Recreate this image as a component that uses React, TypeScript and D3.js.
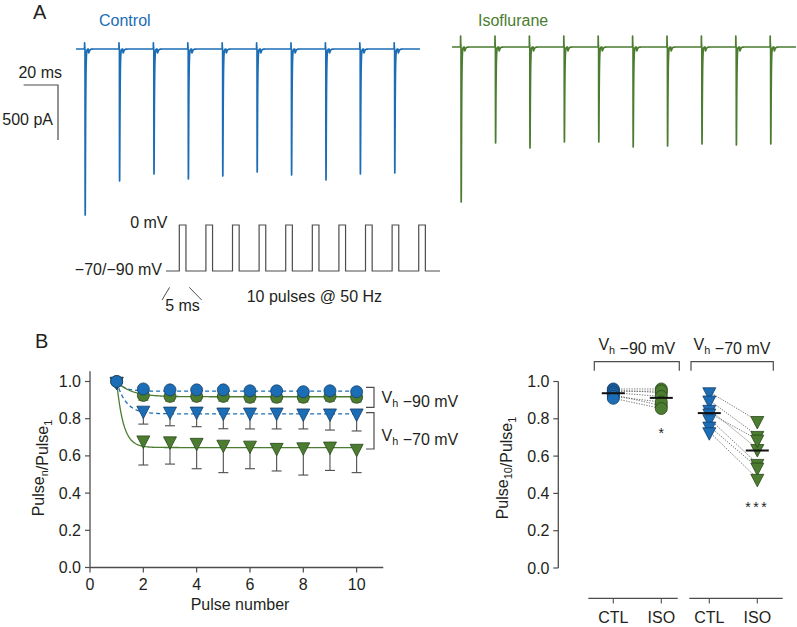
import React from "react";
import * as d3 from "d3";

// ---------- Panel A: peak amplitudes (pA) of the 10 responses ----------
const controlPeaks = [1509, 1200, 1136, 1182, 1155, 1118, 1145, 1191, 1136, 1127];
const isoPeaks = [1409, 873, 918, 864, 864, 909, 900, 882, 891, 882];
const traceArtifact = { control: 55, iso: 100 }; // pA (capacitive transient)
const traceTail = { control: 35, iso: 35 }; // pA (small late component)

// Protocol
const protocolPulses = 10;
const protocolPeriod = 20; // ms (50 Hz)
const protocolWidth = 5; // ms

// ---------- Panel B left: Pulse_n / Pulse_1 ----------
const pulseNumbers = [1, 2, 3, 4, 5, 6, 7, 8, 9, 10];
const ctl90Mean = [1.0, 0.96, 0.955, 0.955, 0.955, 0.95, 0.95, 0.945, 0.95, 0.945];
const ctl90Err = [0, 0.015, 0.015, 0.015, 0.015, 0.015, 0.015, 0.015, 0.015, 0.015];
const iso90Mean = [1.0, 0.925, 0.92, 0.92, 0.92, 0.915, 0.915, 0.915, 0.92, 0.915];
const iso90Err = [0, 0.025, 0.025, 0.025, 0.025, 0.025, 0.025, 0.025, 0.025, 0.025];
const ctl70Mean = [1.0, 0.845, 0.84, 0.84, 0.835, 0.835, 0.835, 0.83, 0.83, 0.83];
const ctl70Err = [0, 0.074, 0.078, 0.083, 0.089, 0.09, 0.09, 0.085, 0.091, 0.096];
const iso70Mean = [1.0, 0.685, 0.68, 0.672, 0.662, 0.657, 0.645, 0.648, 0.652, 0.64];
const iso70Err = [0, 0.134, 0.124, 0.141, 0.152, 0.126, 0.126, 0.151, 0.13, 0.13];
// exponential fits: plateau, tau (pulses)
const fitPlateaus = [0.948, 0.918, 0.826, 0.645];
const fitTaus = [0.3, 0.55, 0.35, 0.25];

const yTicksB = [0, 0.2, 0.4, 0.6, 0.8, 1.0];
const xTicksB = [0, 2, 4, 6, 8, 10];

// ---------- Panel B right: Pulse_10 / Pulse_1 per cell ----------
const groups = ["CTL", "ISO", "CTL ", "ISO "];
const ctl90Cells = [0.96, 0.955, 0.945, 0.94, 0.93, 0.92, 0.91];
const iso90Cells = [0.96, 0.94, 0.95, 0.92, 0.87, 0.89, 0.855];
const ctl70Cells = [0.944, 0.9, 0.85, 0.83, 0.8, 0.76, 0.73];
const iso70Cells = [0.79, 0.71, 0.64, 0.69, 0.56, 0.54, 0.48];

const BLUE = "#1b6db5";
const BLUE_D = "#163f69";
const GREEN = "#4b7c30";
const GREEN_D = "#2a471b";
const AXIS = "#4d4d4d";
const TEXT = "#231f20";
const FONT = "'Liberation Sans', Arial, Helvetica, sans-serif";

function gShape(d: number, tr: number, td: number) {
  const tp = ((tr * td) / (td - tr)) * Math.log(td / tr);
  const norm = Math.exp(-tp / td) - Math.exp(-tp / tr);
  return (Math.exp(-d / td) - Math.exp(-d / tr)) / norm;
}

function traceData(peaks: number[], artifact: number, tail: number) {
  const pts: [number, number][] = [];
  for (let k = 0; k <= 8000; k++) {
    const t = k * 0.025;
    let v = 0;
    peaks.forEach((A, i) => {
      const on = 5 + i * 20;
      const dt = t - on;
      if (dt >= 0 && dt < 0.3) v += artifact * Math.exp(-dt / 0.07);
      const d1 = dt - 0.25;
      if (d1 > 0) v -= A * gShape(d1, 0.06, 0.2);
      const d2 = dt - 2.2;
      if (d2 > 0) v -= tail * gShape(d2, 0.12, 0.45);
    });
    pts.push([t, v]);
  }
  return pts;
}

const Sub = ({ parts, ...rest }: any) => (
  <text {...rest}>
    {parts.map((p: any, i: number) =>
      typeof p === "string" ? (
        <tspan key={i}>{p}</tspan>
      ) : (
        <tspan key={i} fontSize="0.68em" dy={p.dy}>
          {p.sub}
        </tspan>
      )
    )}
  </text>
);

function triPath(w: number, h: number) {
  return `M${-w / 2},${-h / 3}L${w / 2},${-h / 3}L0,${(2 * h) / 3}Z`;
}

export default function App() {
  // ---- Panel A scales ----
  const xC = d3.scaleLinear().domain([0, 200]).range([76, 420]);
  const yC = d3.scaleLinear().domain([0, -1000]).range([49, 159]);
  const xI = d3.scaleLinear().domain([0, 200]).range([452, 796]);
  const yI = d3.scaleLinear().domain([0, -1000]).range([47, 157]);
  const ctlTrace = traceData(controlPeaks, traceArtifact.control, traceTail.control);
  const isoTrace = traceData(isoPeaks, traceArtifact.iso, traceTail.iso);
  const lineC = d3.line<[number, number]>().x((d) => xC(d[0])).y((d) => yC(d[1]));
  const lineI = d3.line<[number, number]>().x((d) => xI(d[0])).y((d) => yI(d[1]));

  // protocol
  const xP = d3.scaleLinear().domain([0, 206]).range([166, 440]);
  const yP = d3.scaleLinear().domain([-70, 0]).range([271, 225]);
  const protoPts: [number, number][] = [[0, -70]];
  d3.range(protocolPulses).forEach((i) => {
    const on = 10 + i * protocolPeriod;
    protoPts.push([on, -70], [on, 0], [on + protocolWidth, 0], [on + protocolWidth, -70]);
  });
  protoPts.push([206, -70]);
  const lineP = d3.line<[number, number]>().x((d) => xP(d[0])).y((d) => yP(d[1]));

  // ---- Panel B left ----
  const xL = d3.scaleLinear().domain([0, 11]).range([90, 383.3]);
  const yL = d3.scaleLinear().domain([0, 1]).range([567.5, 381.5]);
  const fitLine = d3.line<[number, number]>().x((d) => xL(d[0])).y((d) => yL(d[1]));
  const fitPts = (p: number, tau: number) =>
    d3.range(1, 10.001, 0.05).map((x) => [x, p + (1 - p) * Math.exp(-(x - 1) / tau)] as [number, number]);
  const series = [
    { mean: iso70Mean, err: iso70Err, fill: GREEN, stroke: GREEN_D, shape: "tri" },
    { mean: ctl70Mean, err: ctl70Err, fill: BLUE, stroke: BLUE_D, shape: "tri" },
    { mean: iso90Mean, err: iso90Err, fill: GREEN, stroke: GREEN_D, shape: "circ" },
    { mean: ctl90Mean, err: ctl90Err, fill: BLUE, stroke: BLUE_D, shape: "circ" },
  ];
  const fits = [
    { i: 0, color: BLUE, dash: "4,3" },
    { i: 1, color: GREEN, dash: undefined },
    { i: 2, color: BLUE, dash: "4,3" },
    { i: 3, color: GREEN, dash: undefined },
  ];

  // ---- Panel B right ----
  const xR = d3.scalePoint<string>().domain(groups).range([613.3, 757.3]);
  const yR = d3.scaleLinear().domain([0, 1]).range([568, 381.5]);
  const pairs = [
    { a: ctl90Cells, b: iso90Cells, ga: groups[0], gb: groups[1], shape: "circ" },
    { a: ctl70Cells, b: iso70Cells, ga: groups[2], gb: groups[3], shape: "tri" },
  ];

  const fs = 16;

  return (
    <svg
      width={797}
      height={627}
      style={{ position: "absolute", left: 0, top: 0, background: "#fff" }}
      fontFamily={FONT}
      fill={TEXT}
    >
      {/* ===== Panel A ===== */}
      <text x={33} y={19} fontSize={20}>A</text>
      <text x={99} y={26} fontSize={16} fill={BLUE}>Control</text>
      <text x={478} y={26} fontSize={16} fill={GREEN}>Isoflurane</text>
      <path d={lineC(ctlTrace) || ""} fill="none" stroke={BLUE} strokeWidth={1.7} strokeLinejoin="round" />
      <path d={lineI(isoTrace) || ""} fill="none" stroke={GREEN} strokeWidth={1.7} strokeLinejoin="round" />

      {/* scale bar */}
      <path
        d={`M${xC(0) - (xC(20) - xC(0)) - 18},85H${xC(0) - 18}V${85 + (yC(-500) - yC(0))}`}
        fill="none"
        stroke={AXIS}
        strokeWidth={1.2}
      />
      <text x={62} y={78} fontSize={fs} textAnchor="end">20 ms</text>
      <text x={53} y={125} fontSize={fs} textAnchor="end">500 pA</text>

      {/* protocol */}
      <path d={lineP(protoPts) || ""} fill="none" stroke={AXIS} strokeWidth={1.2} />
      <text x={167.5} y={228} fontSize={fs} textAnchor="end">0 mV</text>
      <text x={162} y={274.5} fontSize={fs} textAnchor="end">−70/−90 mV</text>
      <line x1={xP(10) - 9.7} y1={287.3} x2={xP(10) - 17.3} y2={300} stroke={AXIS} strokeWidth={1} />
      <line x1={xP(15) + 3.3} y1={287.3} x2={xP(15) + 15.7} y2={300} stroke={AXIS} strokeWidth={1} />
      <text x={182.5} y={310.5} fontSize={fs} textAnchor="middle">5 ms</text>
      <text x={246.7} y={301.5} fontSize={fs}>10 pulses @ 50 Hz</text>

      {/* ===== Panel B ===== */}
      <text x={35} y={348} fontSize={20}>B</text>

      {/* left axes */}
      <line x1={xL(0)} x2={xL(0)} y1={yL(0)} y2={yL(1.055)} stroke={AXIS} strokeWidth={1.3} />
      <line x1={xL(0)} x2={xL(11)} y1={yL(0)} y2={yL(0)} stroke={AXIS} strokeWidth={1.3} />
      {yTicksB.map((t) => (
        <g key={"yl" + t}>
          <line x1={xL(0) - 5} x2={xL(0)} y1={yL(t)} y2={yL(t)} stroke={AXIS} strokeWidth={1.2} />
          <text x={xL(0) - 9} y={yL(t) + 5.5} fontSize={fs} textAnchor="end">
            {d3.format(".1f")(t)}
          </text>
        </g>
      ))}
      {xTicksB.map((t) => (
        <g key={"xl" + t}>
          <line x1={xL(t)} x2={xL(t)} y1={yL(0)} y2={yL(0) + 5} stroke={AXIS} strokeWidth={1.2} />
          <text x={xL(t)} y={590} fontSize={fs} textAnchor="middle">
            {t}
          </text>
        </g>
      ))}
      <text x={240} y={610} fontSize={fs} textAnchor="middle">Pulse number</text>
      <Sub
        transform="translate(44,468) rotate(-90)"
        textAnchor="middle"
        fontSize={fs}
        parts={["Pulse", { sub: "n", dy: 4 }, { sub: "", dy: -4 }, "/Pulse", { sub: "1", dy: 4 }]}
      />

      {/* error bars */}
      {series.map((s, si) =>
        pulseNumbers.map((p, i) =>
          s.err[i] > 0 ? (
            <g key={`e${si}-${i}`} stroke={AXIS} strokeWidth={1.1}>
              <line x1={xL(p)} x2={xL(p)} y1={yL(s.mean[i])} y2={yL(s.mean[i] - s.err[i])} />
              <line x1={xL(p) - 5} x2={xL(p) + 5} y1={yL(s.mean[i] - s.err[i])} y2={yL(s.mean[i] - s.err[i])} />
            </g>
          ) : null
        )
      )}
      {/* fits */}
      {fits.map((f) => (
        <path
          key={"fit" + f.i}
          d={fitLine(fitPts(fitPlateaus[f.i], fitTaus[f.i])) || ""}
          fill="none"
          stroke={f.color}
          strokeWidth={1.3}
          strokeDasharray={f.dash}
        />
      ))}
      {/* markers */}
      {series.map((s, si) =>
        pulseNumbers.map((p, i) =>
          s.shape === "tri" ? (
            <path
              key={`m${si}-${i}`}
              d={triPath(13, 12.5)}
              transform={`translate(${xL(p)},${yL(s.mean[i])})`}
              fill={s.fill}
              stroke={s.stroke}
              strokeWidth={0.8}
            />
          ) : (
            <circle
              key={`m${si}-${i}`}
              cx={xL(p)}
              cy={yL(s.mean[i])}
              r={6}
              fill={s.fill}
              stroke={s.stroke}
              strokeWidth={0.8}
            />
          )
        )
      )}
      {/* brackets */}
      <path d="M366,387.3H374V407.3H366" fill="none" stroke={AXIS} strokeWidth={1.2} />
      <path d="M366,412.7H374V449H366" fill="none" stroke={AXIS} strokeWidth={1.2} />
      <Sub x={381.5} y={403} fontSize={fs} parts={["V", { sub: "h", dy: 4 }, { sub: "", dy: -4 }, " −90 mV"]} />
      <Sub x={381.5} y={440.5} fontSize={fs} parts={["V", { sub: "h", dy: 4 }, { sub: "", dy: -4 }, " −70 mV"]} />

      {/* right axes */}
      <line x1={558.3} x2={558.3} y1={yR(0)} y2={yR(1)} stroke={AXIS} strokeWidth={1.3} />
      {yTicksB.map((t) => (
        <g key={"yr" + t}>
          <line x1={553.3} x2={558.3} y1={yR(t)} y2={yR(t)} stroke={AXIS} strokeWidth={1.2} />
          <text x={549.5} y={yR(t) + 5.5} fontSize={fs} textAnchor="end">
            {d3.format(".1f")(t)}
          </text>
        </g>
      ))}
      <Sub
        transform="translate(508,468) rotate(-90)"
        textAnchor="middle"
        fontSize={fs}
        parts={["Pulse", { sub: "10", dy: 4 }, { sub: "", dy: -4 }, "/Pulse", { sub: "1", dy: 4 }]}
      />
      <line x1={588.3} x2={677.7} y1={598.3} y2={598.3} stroke={AXIS} strokeWidth={1.3} />
      <line x1={689.3} x2={782.7} y1={598.3} y2={598.3} stroke={AXIS} strokeWidth={1.3} />
      {groups.map((g) => (
        <g key={"gx" + g}>
          <line x1={xR(g)!} x2={xR(g)!} y1={598.3} y2={603.5} stroke={AXIS} strokeWidth={1.1} />
          <text x={xR(g)!} y={622.5} fontSize={fs} textAnchor="middle">
            {g.trim()}
          </text>
        </g>
      ))}
      {/* top group brackets */}
      <path d="M594.3,370.7V361.7H679.3V370.7" fill="none" stroke={AXIS} strokeWidth={1.2} />
      <path d="M691,370.7V361.7H773.3V370.7" fill="none" stroke={AXIS} strokeWidth={1.2} />
      <Sub x={636.8} y={350} fontSize={fs} textAnchor="middle" parts={["V", { sub: "h", dy: 4 }, { sub: "", dy: -4 }, " −90 mV"]} />
      <Sub x={732} y={350} fontSize={fs} textAnchor="middle" parts={["V", { sub: "h", dy: 4 }, { sub: "", dy: -4 }, " −70 mV"]} />

      {/* paired lines */}
      {pairs.map((pr, pi) =>
        pr.a.map((v, i) => (
          <line
            key={`pl${pi}-${i}`}
            x1={xR(pr.ga)!}
            x2={xR(pr.gb)!}
            y1={yR(v)}
            y2={yR(pr.b[i])}
            stroke="#555"
            strokeWidth={0.8}
            strokeDasharray="1.3,1.3"
          />
        ))
      )}
      {pairs.map((pr, pi) =>
        [
          { vals: pr.a, g: pr.ga, fill: BLUE, stroke: BLUE_D },
          { vals: pr.b, g: pr.gb, fill: GREEN, stroke: GREEN_D },
        ].map((grp, gi) =>
          grp.vals.map((v, i) =>
            pr.shape === "circ" ? (
              <circle
                key={`rc${pi}-${gi}-${i}`}
                cx={xR(grp.g)!}
                cy={yR(v)}
                r={6}
                fill={grp.fill}
                stroke={grp.stroke}
                strokeWidth={0.8}
              />
            ) : (
              <path
                key={`rt${pi}-${gi}-${i}`}
                d={triPath(13, 12.5)}
                transform={`translate(${xR(grp.g)},${yR(v)})`}
                fill={grp.fill}
                stroke={grp.stroke}
                strokeWidth={0.8}
              />
            )
          )
        )
      )}
      {/* means */}
      {pairs.map((pr) =>
        [
          { vals: pr.a, g: pr.ga },
          { vals: pr.b, g: pr.gb },
        ].map((grp) => (
          <line
            key={"mean" + grp.g}
            x1={xR(grp.g)! - 11.5}
            x2={xR(grp.g)! + 11.5}
            y1={yR(d3.mean(grp.vals)!)}
            y2={yR(d3.mean(grp.vals)!)}
            stroke="#111"
            strokeWidth={2}
          />
        ))
      )}
      <text x={xR(groups[1])!} y={438} fontSize={14} textAnchor="middle">*</text>
      <text x={xR(groups[3])!} y={512} fontSize={14} textAnchor="middle" letterSpacing={2.5}>***</text>
    </svg>
  );
}
